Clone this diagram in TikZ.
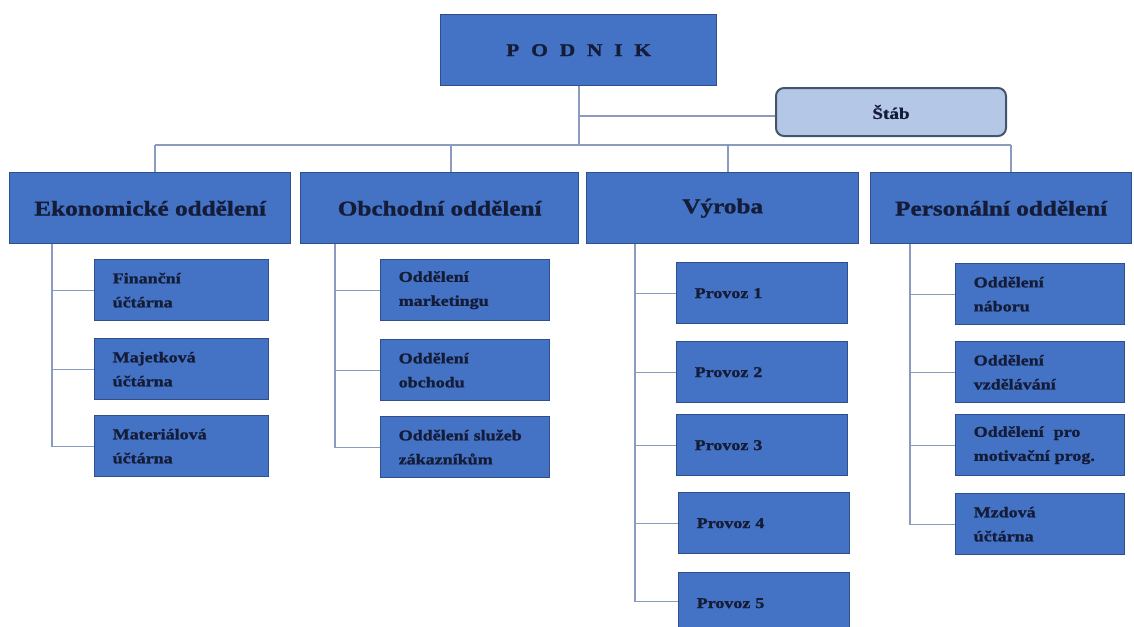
\documentclass[tikz,border=0pt]{standalone}
\usepackage{fontspec}
\setmainfont{Liberation Serif}[FakeStretch=1.2]
\newfontfamily\heavyfont{Liberation Serif}[FakeStretch=1.2, FakeBold=1.2, BoldFeatures={FakeStretch=1.2, FakeBold=1.2}]
\definecolor{boxblue}{HTML}{4472C4}
\definecolor{boxedge}{HTML}{2F4F8A}
\definecolor{txt}{HTML}{141C38}
\definecolor{lnc}{HTML}{8A9BBF}
\definecolor{stabfill}{HTML}{B4C7E7}
\definecolor{stabedge}{HTML}{44546A}
\begin{document}
\begin{tikzpicture}[x=1pt,y=-1pt,
  box/.style={draw=boxedge, line width=1.4pt, fill=boxblue, text=txt, anchor=north west, inner sep=0pt},
  head/.style={box, font=\heavyfont\fontsize{21}{24}\selectfont\bfseries, align=center, minimum height=71pt},
  sub/.style={box, font=\heavyfont\fontsize{15}{24}\selectfont\bfseries, align=left, inner xsep=18pt, minimum height=61pt},
  colA/.style={sub, minimum width=174pt, text width=138pt},
  colB/.style={sub, minimum width=169pt, text width=133pt},
  colC/.style={sub, minimum width=171pt, text width=135pt},
  conn/.style={draw=lnc, line width=1.3pt}]
\useasboundingbox (0,0) rectangle (1134,626);
\clip (0,0) rectangle (1134,626);
% top
\node[box, minimum width=276pt, minimum height=71pt, font=\heavyfont\fontsize{18}{20}\selectfont\bfseries\addfontfeature{LetterSpace=65}] (podnik) at (440,14) {PODNIK};
\node[draw=stabedge, line width=2pt, fill=stabfill, rounded corners=8pt, text=txt, anchor=north west, inner sep=0pt, minimum width=230pt, minimum height=48pt, font=\heavyfont\fontsize{16}{18}\selectfont\bfseries] (stab) at (775,87) {Štáb};
% level 2
\node[head, minimum width=281pt] (eko) at (9,172) {Ekonomické oddělení};
\node[head, minimum width=278pt] (obch) at (300,172) {Obchodní oddělení};
\node[head, minimum width=272pt] (vyr) at (586,172) {Výroba};
\node[head, minimum width=261pt] (pers) at (870,172) {Personální oddělení};
% column 1
\node[colA] (fin) at (94,259) {Finanční\\účtárna};
\node[colA] (maj) at (94,338) {Majetková\\účtárna};
\node[colA] (mat) at (94,415) {Materiálová\\účtárna};
% column 2
\node[colB] (mark) at (380,259) {Oddělení\\marketingu};
\node[colB] (obd) at (380,339) {Oddělení\\obchodu};
\node[colB] (sluz) at (380,416) {Oddělení služeb\\zákazníkům};
% column 3
\node[colC] (p1) at (676,262) {Provoz 1};
\node[colC] (p2) at (676,341) {Provoz 2};
\node[colC] (p3) at (676,414) {Provoz 3};
\node[colC] (p4) at (678,492) {Provoz 4};
\node[colC] (p5) at (678,572) {Provoz 5};
% column 4
\node[colB] (nab) at (955,263) {Oddělení\\náboru};
\node[colB] (vzd) at (955,341) {Oddělení\\vzdělávání};
\node[colB] (mot) at (955,414) {Oddělení\ \ pro\\motivační prog.};
\node[colB] (mzd) at (955,493) {Mzdová\\účtárna};
% connectors top
\coordinate (trunk) at (579,145);
\coordinate (sj) at (579,116);
\coordinate (barL) at (155,145);
\coordinate (barR) at (1011,145);
\coordinate (d2) at (451,145);
\coordinate (d3) at (728,145);
\draw[conn] (podnik.south -| trunk) -- (trunk);
\draw[conn] (sj) -- (sj -| stab.west);
\draw[conn] (barL) -- (barR);
\draw[conn] (barL) -- (barL |- eko.north);
\draw[conn] (d2) -- (d2 |- obch.north);
\draw[conn] (d3) -- (d3 |- vyr.north);
\draw[conn] (barR) -- (barR |- pers.north);
% column branches
\coordinate (v1) at (52,0);
\coordinate (v2) at (335,0);
\coordinate (v3) at (635,0);
\coordinate (v4) at (910,0);
\draw[conn] (v1 |- eko.south) |- (mat.west);
\draw[conn] (v1 |- fin.west) -- (fin.west);
\draw[conn] (v1 |- maj.west) -- (maj.west);
\draw[conn] (v2 |- obch.south) |- (sluz.west);
\draw[conn] (v2 |- mark.west) -- (mark.west);
\draw[conn] (v2 |- obd.west) -- (obd.west);
\draw[conn] (v3 |- vyr.south) |- ([yshift=2pt]p5.west);
\draw[conn] (v3 |- p1.west) -- (p1.west);
\draw[conn] (v3 |- p2.west) -- (p2.west);
\draw[conn] (v3 |- p3.west) -- (p3.west);
\draw[conn] (v3 |- p4.west) -- (p4.west);
\draw[conn] (v4 |- pers.south) |- (mzd.west);
\draw[conn] (v4 |- nab.west) -- (nab.west);
\draw[conn] (v4 |- vzd.west) -- (vzd.west);
\draw[conn] (v4 |- mot.west) -- (mot.west);
\end{tikzpicture}
\end{document}
